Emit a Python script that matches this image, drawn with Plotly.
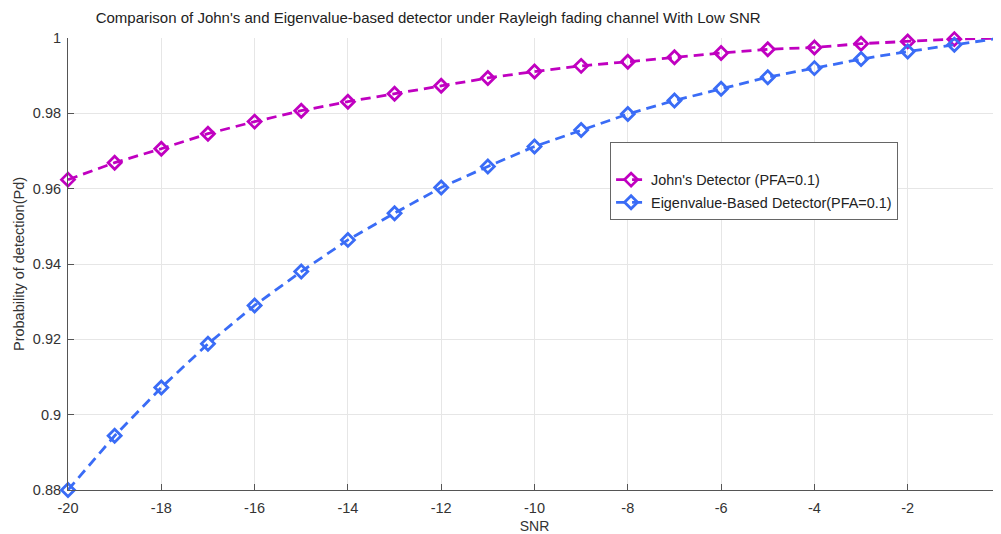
import plotly.graph_objects as go

snr = [-20, -19, -18, -17, -16, -15, -14, -13, -12, -11, -10,
       -9, -8, -7, -6, -5, -4, -3, -2, -1, 0]
johns = [0.9624, 0.9669, 0.9706, 0.9746, 0.9778, 0.9807, 0.9831, 0.9852,
         0.9873, 0.9894, 0.9911, 0.9926, 0.9937, 0.9949, 0.9960, 0.9970,
         0.9975, 0.9985, 0.9991, 0.9997, 1.0]
eigen = [0.8800, 0.8944, 0.9072, 0.9188, 0.9290, 0.9380, 0.9464, 0.9535,
         0.9603, 0.9659, 0.9712, 0.9756, 0.9798, 0.9834, 0.9865, 0.9896,
         0.9920, 0.9944, 0.9964, 0.9982, 1.0]

x_ticks = [-20, -18, -16, -14, -12, -10, -8, -6, -4, -2, 0]
x_labels = ["-20", "-18", "-16", "-14", "-12", "-10", "-8", "-6", "-4", "-2", "0"]
y_ticks = [0.88, 0.9, 0.92, 0.94, 0.96, 0.98, 1.0]
y_labels = ["0.88", "0.9", "0.92", "0.94", "0.96", "0.98", "1"]

MAG = "#C000C0"
BLUE = "#3A6CF6"
FONT = "Liberation Sans, Arial, sans-serif"

fig = go.Figure()
fig.add_trace(go.Scatter(
    x=snr, y=johns, mode="lines+markers", name="John's Detector (PFA=0.1)",
    legendgroup="a",
    line=dict(color=MAG, width=2.8, dash="10px,6px"),
    marker=dict(symbol="diamond-open", size=10, color=MAG, line=dict(width=2.8, color=MAG)),
    cliponaxis=False,
))
fig.add_trace(go.Scatter(
    x=snr, y=eigen, mode="lines+markers", name="Eigenvalue-Based Detector(PFA=0.1)",
    legendgroup="b",
    line=dict(color=BLUE, width=2.8, dash="10px,6px"),
    marker=dict(symbol="diamond-open", size=10, color=BLUE, line=dict(width=2.8, color=BLUE)),
    cliponaxis=False,
))

# page body adds an 8px margin, so the figure is sized to end at the window edge
fig.update_layout(
    width=993, height=526,
    margin=dict(l=60, r=0, t=30, b=44, autoexpand=False),
    paper_bgcolor="white", plot_bgcolor="white",
    font=dict(family=FONT, size=14, color="#333333"),
    title=dict(
        text="Comparison of John's and Eigenvalue-based detector under Rayleigh fading channel With Low SNR",
        x=0.386, xref="paper", xanchor="center", y=0.981, yref="container", yanchor="middle",
        font=dict(size=15, color="#222222", family=FONT),
        automargin=False,
    ),
    showlegend=True,
    legend=dict(
        x=0.581, y=0.770, xanchor="left", yanchor="top",
        bordercolor="#666666", borderwidth=1, bgcolor="white",
        font=dict(size=14.4, color="#222222", family=FONT),
        title=dict(text=" ", font=dict(size=16)),
        itemwidth=30, tracegroupgap=1,
    ),
    xaxis=dict(
        range=[-20, 0], tickvals=x_ticks, ticktext=x_labels,
        showgrid=True, gridcolor="#E6E6E6", gridwidth=1,
        showline=True, linecolor="#555555", linewidth=1,
        ticks="inside", ticklen=6, tickcolor="#555555",
        zeroline=False, mirror=False, automargin=False,
        ticklabelstandoff=5, ticklabeloverflow="allow",
        title=dict(text="SNR", font=dict(size=14, color="#333333"), standoff=9),
        tickfont=dict(size=14.5, color="#333333"),
    ),
    yaxis=dict(
        range=[0.88, 1.0], tickvals=y_ticks, ticktext=y_labels,
        showgrid=True, gridcolor="#E6E6E6", gridwidth=1,
        showline=True, linecolor="#555555", linewidth=1,
        ticks="inside", ticklen=6, tickcolor="#555555",
        zeroline=False, mirror=False, automargin=False,
        ticklabelstandoff=3,
        title=dict(text="Probability of detection(Pd)", font=dict(size=14.5, color="#333333"), standoff=4),
        tickfont=dict(size=14.5, color="#333333"),
    ),
)

fig.write_html("out.html")
